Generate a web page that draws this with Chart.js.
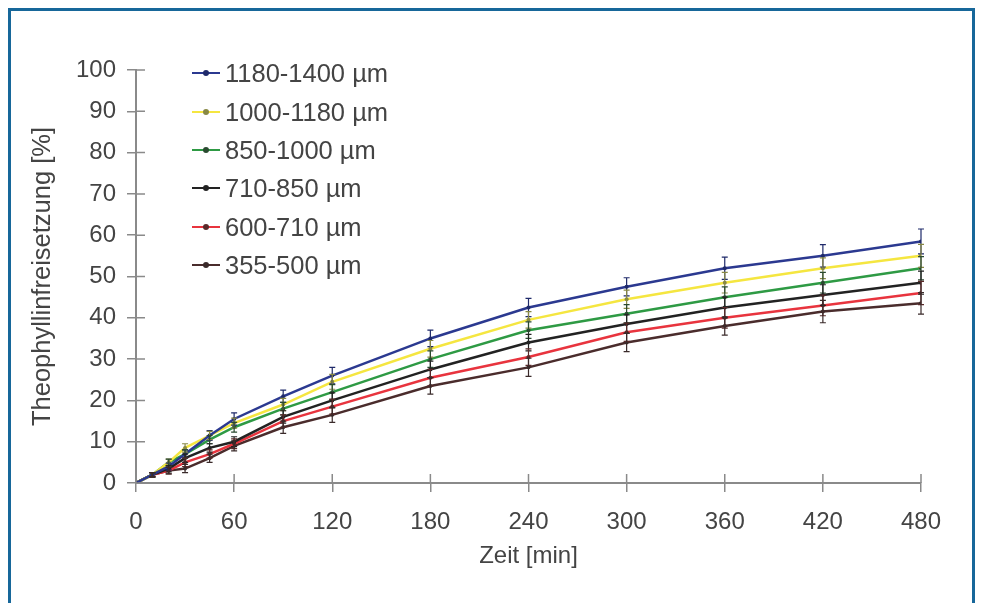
<!DOCTYPE html>
<html>
<head>
<meta charset="utf-8">
<script src="https://cdn.jsdelivr.net/npm/chart.js@4"></script>
<style>
  html, body { margin: 0; padding: 0; background: #fff; }
  body { width: 982px; height: 603px; position: relative; overflow: hidden; font-family: "Liberation Sans", Arial, sans-serif; }
  #rahmen { position: absolute; left: 8px; top: 8px; width: 961px; height: 600px; border: 3px solid #17679a; border-bottom: none; }
  #wrap { position: absolute; left: 0; top: 0; width: 982px; height: 603px; }
  #legende { position: absolute; left: 192px; top: 54px; }
  .eintrag { height: 38.4px; display: flex; align-items: center; font-size: 25.5px; color: #444; line-height: 30px; }
  .probe { position: relative; width: 28px; height: 2px; margin-right: 5px; }
  .probe i { position: absolute; left: 11px; top: -2px; width: 6px; height: 6px; border-radius: 3px; }
</style>
</head>
<body>
<div id="rahmen"></div>
<div id="wrap"><canvas id="c" width="982" height="603"></canvas></div>
<div id="legende"></div>
<script>
const zeiten = [0, 10, 20, 30, 45, 60, 90, 120, 180, 240, 300, 360, 420, 480];

const fraktionen = ["1180-1400 µm", "1000-1180 µm", "850-1000 µm", "710-850 µm", "600-710 µm", "355-500 µm"];

const w1180 = [0, 2, 4, 7, 11.5, 15.5, 21, 26, 35, 42.5, 47.5, 52, 55, 58.5];
const w1000 = [0, 2, 5, 8.5, 11.5, 14.5, 19, 24.5, 32.5, 39.5, 44.5, 48.5, 52, 55];
const w850 = [0, 2, 5, 7, 10.5, 13.5, 18, 22, 30, 37, 41, 45, 48.5, 52];
const w710 = [0, 2, 3.5, 6, 8.5, 10, 16, 20, 27.5, 34, 38.5, 42.5, 45.5, 48.5];
const w600 = [0, 2, 3, 5, 7, 9.5, 15, 18.5, 25.5, 30.5, 36.5, 40, 43, 46];
const w355 = [0, 2, 3, 3.5, 6, 9, 13.5, 16.5, 23.5, 28, 34, 38, 41.5, 43.5];

// Standardabweichungen (geschätzt)
const f1180 = [0, 0.5, 0.8, 1, 1.2, 1.5, 1.5, 2, 2, 2.2, 2.2, 2.7, 2.7, 3];
const f1000 = [0, 0.5, 0.8, 1, 1, 1.2, 1.5, 1.8, 2, 2, 2.2, 2.5, 2.5, 2.8];
const f850 = [0, 0.5, 0.8, 1, 1, 1.2, 1.5, 1.8, 2, 2, 2.2, 2.5, 2.5, 2.8];
const f710 = [0, 0.5, 0.8, 1, 1, 1.2, 1.5, 1.8, 2, 2, 2.2, 2.5, 2.5, 2.8];
const f600 = [0, 0.5, 0.8, 1, 1, 1.2, 1.5, 1.8, 2, 2, 2.2, 2.5, 2.5, 2.8];
const f355 = [0, 0.5, 0.8, 1, 1, 1.2, 1.5, 1.8, 2, 2.2, 2.2, 2.2, 2.7, 2.6];

const werte = [w1180, w1000, w850, w710, w600, w355];
const fehler = [f1180, f1000, f850, f710, f600, f355];
const farben = ["#2b3990", "#f5e640", "#2e9a44", "#222222", "#e8343e", "#4a2c2c"];
const balkenFarben = ["#1f2a6a", "#888844", "#2a4a30", "#222222", "#5a2a2a", "#3a2a2a"];

const grau = "#8a8a8a";
const schrift = "#444";

const fehlerbalken = {
  id: "fehlerbalken",
  afterDatasetsDraw(chart) {
    const ctx = chart.ctx;
    const y = chart.scales.y;
    chart.data.datasets.forEach((ds, i) => {
      const meta = chart.getDatasetMeta(i);
      ctx.save();
      ctx.strokeStyle = balkenFarben[i];
      ctx.lineWidth = 1.2;
      meta.data.forEach((pt, j) => {
        const e = fehler[i][j];
        if (!e) return;
        const oben = y.getPixelForValue(werte[i][j] + e);
        const unten = y.getPixelForValue(werte[i][j] - e);
        ctx.beginPath();
        ctx.moveTo(pt.x, oben); ctx.lineTo(pt.x, unten);
        ctx.moveTo(pt.x - 3, oben); ctx.lineTo(pt.x + 3, oben);
        ctx.moveTo(pt.x - 3, unten); ctx.lineTo(pt.x + 3, unten);
        ctx.stroke();
      });
      ctx.restore();
    });
  }
};

// Striche nach innen, damit sie die Achse kreuzen
const kreuzStriche = {
  id: "kreuzStriche",
  afterDraw(chart) {
    const ctx = chart.ctx;
    const { x, y } = chart.scales;
    const area = chart.chartArea;
    ctx.save();
    ctx.strokeStyle = grau;
    ctx.lineWidth = 1.5;
    ctx.beginPath();
    x.ticks.forEach(t => {
      const px = x.getPixelForValue(t.value);
      ctx.moveTo(px, area.bottom); ctx.lineTo(px, area.bottom - 9);
    });
    y.ticks.forEach(t => {
      const py = y.getPixelForValue(t.value);
      ctx.moveTo(area.left, py); ctx.lineTo(area.left + 9, py);
    });
    ctx.stroke();
    ctx.restore();
  }
};

new Chart(document.getElementById("c"), {
  type: "line",
  data: {
    datasets: fraktionen.map((name, i) => ({
      label: name,
      data: zeiten.map((t, j) => ({ x: t, y: werte[i][j] })),
      borderColor: farben[i],
      backgroundColor: balkenFarben[i],
      borderWidth: 2.5,
      pointRadius: 2,
      pointBorderWidth: 0,
      tension: 0
    }))
  },
  options: {
    responsive: false,
    animation: false,
    layout: { padding: { left: 26, top: 70, right: 61, bottom: 0 } },
    plugins: { legend: { display: false }, tooltip: { enabled: false } },
    scales: {
      x: {
        type: "linear", min: 0, max: 480,
        afterFit: s => { s.height = 120; },
        ticks: { stepSize: 60, color: schrift, font: { family: "Liberation Sans", size: 24 }, padding: 16 },
        grid: { drawOnChartArea: false, tickLength: 9, color: grau, lineWidth: 1.5 },
        border: { color: grau, width: 2 },
        title: { display: true, text: "Zeit [min]", color: schrift, font: { family: "Liberation Sans", size: 24 }, padding: { bottom: 32 } }
      },
      y: {
        min: 0, max: 100,
        afterFit: s => { s.width = 110; },
        ticks: { stepSize: 10, color: schrift, font: { family: "Liberation Sans", size: 24 }, padding: 11 },
        grid: { drawOnChartArea: false, tickLength: 9, color: grau, lineWidth: 1.5 },
        border: { color: grau, width: 2 },
        title: { display: true, text: "Theophyllinfreisetzung [%]", color: schrift, font: { family: "Liberation Sans", size: 25.5 }, padding: { top: 2 } }
      }
    }
  },
  plugins: [fehlerbalken, kreuzStriche]
});

const legende = document.getElementById("legende");
fraktionen.forEach((name, i) => {
  const zeile = document.createElement("div");
  zeile.className = "eintrag";
  zeile.innerHTML = `<span class="probe" style="background:${farben[i]}"><i style="background:${balkenFarben[i]}"></i></span>`;
  zeile.appendChild(document.createTextNode(name));
  legende.appendChild(zeile);
});
</script>
</body>
</html>
